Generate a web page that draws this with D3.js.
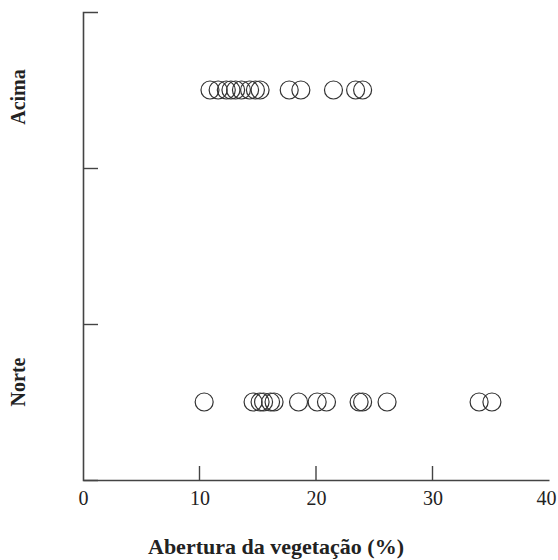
<!DOCTYPE html>
<html>
<head>
<meta charset="utf-8">
<script src="https://cdn.jsdelivr.net/npm/d3@7"></script>
<style>
  html, body { margin: 0; padding: 0; background: #fff; }
  svg { display: block; }
  text { font-family: "Liberation Serif", "Times New Roman", serif; fill: #222; }
</style>
</head>
<body>
<div id="chart"></div>
<script>
// Categories (bottom to top) and their positions on the y axis
const categories = ["Norte", "Acima"];
const categoryPos = [0.5, 2.5];
const yTickValues = [1, 2];

// Abertura da vegetação (%) values per category
const acimaValues = [10.9, 11.6, 12.3, 12.7, 13.1, 13.6, 14.3, 14.8, 15.2, 17.7, 18.7, 21.5, 23.4, 24.0];
const norteValues = [10.4, 14.6, 15.2, 15.5, 16.1, 16.4, 18.5, 20.1, 20.9, 23.7, 24.0, 26.1, 34.0, 35.1];

const xTickValues = [0, 10, 20, 30, 40];
const xLabel = "Abertura da vegetação (%)";

const W = 558, H = 560;
const svg = d3.select("#chart").append("svg").attr("width", W).attr("height", H);

const x = d3.scaleLinear().domain([0, 40]).range([83, 549]);
const y = d3.scaleLinear().domain([0, 3]).range([480, 12]);

const axisColor = "#444";

// x axis
const gx = svg.append("g").attr("transform", `translate(0,${y(0)})`)
  .call(d3.axisBottom(x).tickValues(xTickValues).tickSize(0).tickPadding(11).tickFormat(d3.format("d")));
gx.attr("font-family", null).attr("font-size", null);
gx.select(".domain").attr("stroke", axisColor).attr("stroke-width", 1.6);
gx.selectAll("text").style("font-size", "20px").style("font-family", "'Liberation Serif', serif").style("fill", "#222")
  .attr("dx", d => d === 40 ? -3 : 0);
gx.selectAll(".tickmark").data(xTickValues.filter(v => v > 0 && v < 40)).enter()
  .append("line").attr("class", "tickmark")
  .attr("x1", d => x(d)).attr("x2", d => x(d))
  .attr("y1", 0).attr("y2", -14)
  .attr("stroke", axisColor).attr("stroke-width", 1.4);

// y axis
const gy = svg.append("g").attr("transform", `translate(${x(0)},0)`)
  .call(d3.axisLeft(y).tickValues(yTickValues).tickSize(-15).tickFormat(""));
gy.select(".domain").attr("stroke", axisColor).attr("stroke-width", 1.6);
gy.selectAll(".tick line").attr("stroke", axisColor).attr("stroke-width", 1.4);

// category labels
const labelOffsets = [-20, 7];
svg.selectAll(".catlabel").data(categories).enter()
  .append("text").attr("class", "catlabel")
  .attr("transform", (d, i) => `translate(25,${y(categoryPos[i]) + labelOffsets[i]}) rotate(-90)`)
  .attr("text-anchor", "middle")
  .style("font-size", "20px").style("font-weight", "bold")
  .text(d => d);

// points
const series = [
  { cat: 0, values: norteValues },
  { cat: 1, values: acimaValues }
];
series.forEach(s => {
  svg.append("g").selectAll("circle").data(s.values).enter()
    .append("circle")
    .attr("cx", d => x(d))
    .attr("cy", y(categoryPos[s.cat]))
    .attr("r", 9)
    .attr("fill", "none")
    .attr("stroke", "#333")
    .attr("stroke-width", 1.2);
});

// x axis title
svg.append("text")
  .attr("x", 276).attr("y", 554)
  .attr("text-anchor", "middle")
  .style("font-size", "22px").style("font-weight", "bold")
  .text(xLabel);
</script>
</body>
</html>
